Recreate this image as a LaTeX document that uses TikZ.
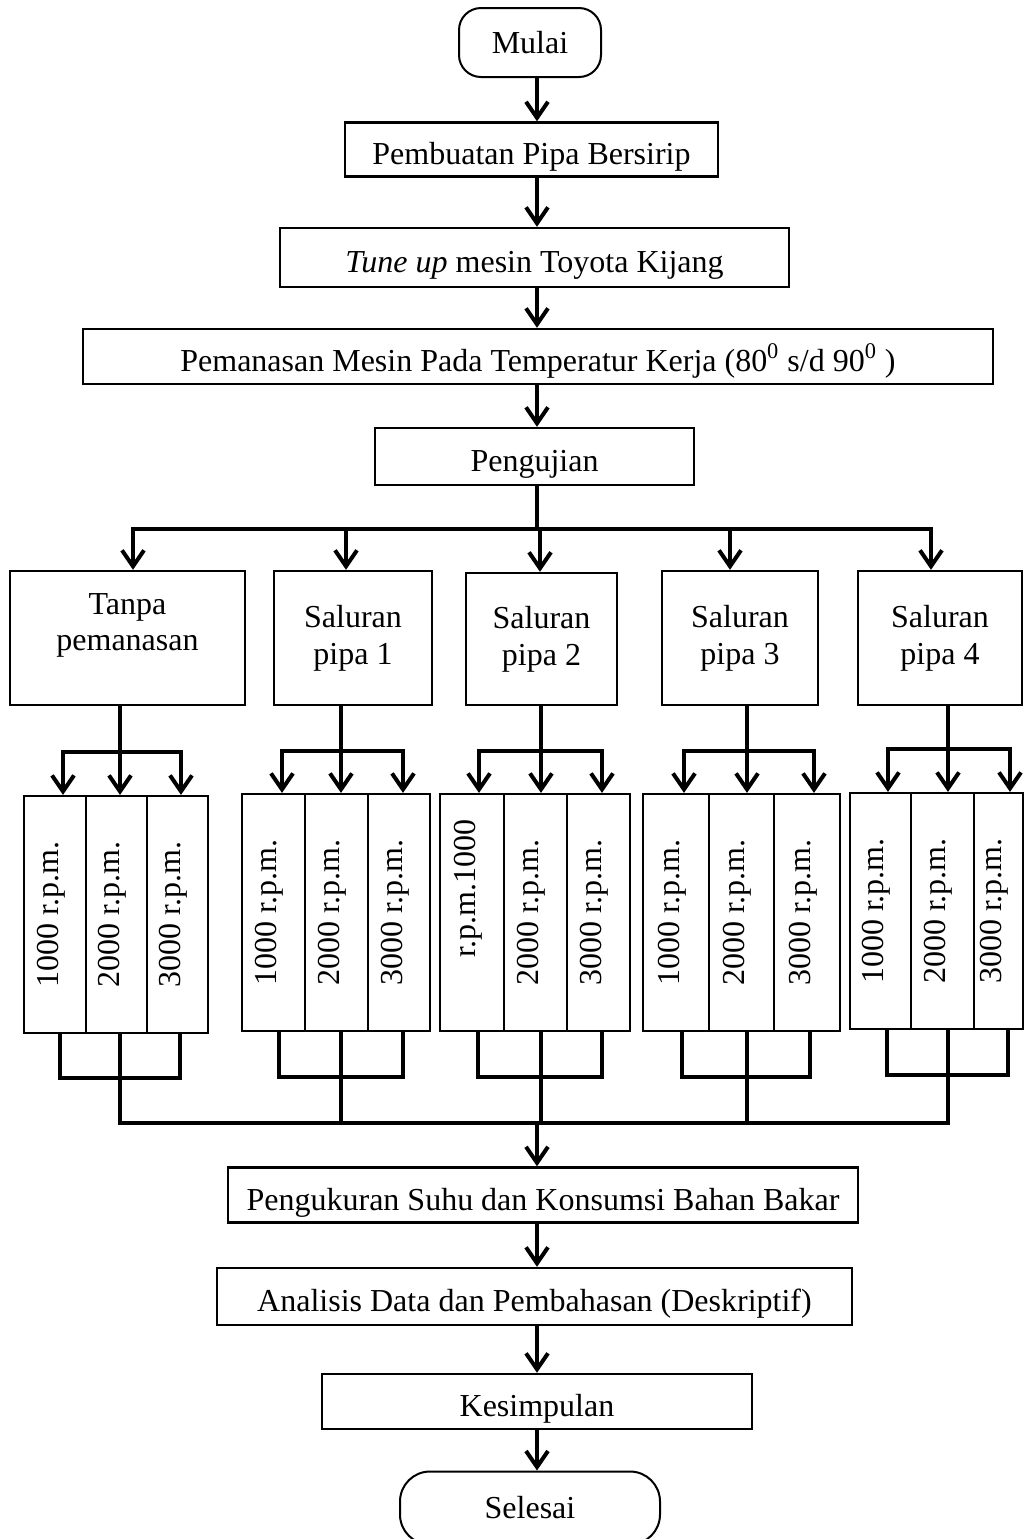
\documentclass[tikz,border=0pt]{standalone}
\usepackage{fontspec}
\setmainfont{Liberation Serif}
\usetikzlibrary{arrows.meta}
\tikzset{
  box/.style={draw, line width=1.2pt, inner sep=0pt, align=center, font=\fontsize{16}{18.4}\selectfont},
  one/.style={box, text height=15pt, text depth=0pt},
  term/.style={box, line width=1pt, rounded corners=11pt},
  col/.style={draw, line width=1.1pt, inner sep=0pt},
  rpm/.style={rotate=90, inner sep=0pt, yshift=2pt, font=\fontsize{16}{18.4}\selectfont},
  arr/.style={-{Straight Barb[length=8pt,width=11pt]}, line width=2pt},
  fork/.style={line width=2pt, line cap=rect},
}
\begin{document}
\begin{tikzpicture}[x=0.5pt, y=-0.5pt]
    \useasboundingbox (0,0) rectangle (1025,1539);
    \clip (0,0) rectangle (1025,1539);
    \coordinate (ax) at (537,0);
    \node[term, minimum width=71pt, minimum height=34.5pt] (mulai) at (530,42.5) {Mulai};
    \node[one, minimum width=186.5pt, minimum height=27pt] (buat) at (531.5,149.5) {Pembuatan Pipa Bersirip};
    \node[one, minimum width=254.5pt, minimum height=29.5pt] (tune) at (534.5,257.5) {\textit{Tune up} mesin Toyota Kijang};
    \node[one, minimum width=455pt, minimum height=27.5pt] (panas) at (538,356.5) {Pemanasan Mesin Pada Temperatur Kerja (80\textsuperscript{0} s/d 90\textsuperscript{0} )};
    \node[one, minimum width=159.5pt, minimum height=28.5pt] (uji) at (534.5,456.5) {Pengujian};
    \foreach \a/\b in {mulai/buat, buat/tune, tune/panas, panas/uji} {
        \draw[arr] (\a.south -| ax) -- (\b.north -| ax);
    }

    \node[box, minimum width=117.5pt, minimum height=67pt] (tanpa) at (127.5,638) {};
    \node[box, anchor=north, draw=none] at (127.5,592) {Tanpa\\pemanasan};
    \node[box, minimum width=79pt, minimum height=67pt] (sal1) at (353,638) {Saluran\\pipa 1};
    \node[box, minimum width=75.5pt, minimum height=66pt] (sal2) at (541.5,639) {Saluran\\pipa 2};
    \node[box, minimum width=78pt, minimum height=67pt] (sal3) at (740,638) {Saluran\\pipa 3};
    \node[box, minimum width=82pt, minimum height=67pt] (sal4) at (940,638) {Saluran\\pipa 4};

    \coordinate (dl) at (133,529);
    \coordinate (dr) at (931,529);
    \draw[fork] (uji.south -| ax) -- (ax |- dl);
    \draw[fork] (dl) -- (dr);
    \foreach \n/\x in {tanpa/133, sal1/346, sal2/540, sal3/730, sal4/931} {
        \draw[arr] (\x,529) -- (\n.north -| \x,0);
    }

    \foreach \g/\n/\xa/\xb/\xc/\xd/\ya/\yb/\yf/\aa/\ab/\ac/\ba/\bc/\yj/\ta/\sh in {
        0/tanpa/24/86/147/208/796/1033/752/63/120/181/60/180/1078/1000 r.p.m./0,
        1/sal1/242/305/368/430/794/1031/751/282/341/403/279/403/1077/1000 r.p.m./0,
        2/sal2/440/504/567/630/794/1031/751/479/541/602/478/602/1077/r.p.m.1000/12,
        3/sal3/643/709/774/840/794/1031/751/684/747/814/682/810/1077/1000 r.p.m./0,
        4/sal4/850/911/974/1023/793/1029/749/888/948/1010/887/1008/1075/1000 r.p.m./0} {
        \pgfmathsetmacro\ym{(\ya+\yb)/2}
        \pgfmathsetmacro\hh{(\yb-\ya)/2}
        \pgfmathsetmacro\ma{(\xa+\xb)/2}
        \pgfmathsetmacro\mb{(\xb+\xc)/2}
        \pgfmathsetmacro\mc{(\xc+\xd)/2}
        \pgfmathsetmacro\wa{(\xb-\xa)/2}
        \pgfmathsetmacro\wb{(\xc-\xb)/2}
        \pgfmathsetmacro\wc{(\xd-\xc)/2}
        \node[col, minimum width=\wa pt, minimum height=\hh pt] (r\g-1) at (\ma,\ym) {};
        \node[col, minimum width=\wb pt, minimum height=\hh pt] (r\g-2) at (\mb,\ym) {};
        \node[col, minimum width=\wc pt, minimum height=\hh pt] (r\g-3) at (\mc,\ym) {};
        \node[rpm, xshift=\sh pt] at (r\g-1) {\ta};
        \node[rpm] at (r\g-2) {2000 r.p.m.};
        \node[rpm] at (r\g-3) {3000 r.p.m.};
        \draw[fork] (\n.south -| \ab,0) -- (\ab,\yf);
        \draw[fork] (\aa,\yf) -- (\ac,\yf);
        \draw[arr] (\aa,\yf) -- (r\g-1.north -| \aa,0);
        \draw[arr] (\ab,\yf) -- (r\g-2.north -| \ab,0);
        \draw[arr] (\ac,\yf) -- (r\g-3.north -| \ac,0);
        \draw[fork] (r\g-1.south -| \ba,0) -- (\ba,\yj) -- (\bc,\yj) -- (r\g-3.south -| \bc,0);
        \draw[fork] (r\g-2.south -| \ab,0) -- (\ab,1123);
    }
    \draw[fork] (122,1123) -- (948,1123);
    \coordinate (jm) at (537,1123);

    \node[one, minimum width=315pt, minimum height=27.5pt] (ukur) at (543,1195) {Pengukuran Suhu dan Konsumsi Bahan Bakar};
    \node[one, minimum width=317.5pt, minimum height=28.5pt] (ana) at (534.5,1296.5) {Analisis Data dan Pembahasan (Deskriptif)};
    \node[one, minimum width=215pt, minimum height=27.5pt] (simpul) at (537,1401.5) {Kesimpulan};
    \node[term, rounded corners=15pt, minimum width=130pt, minimum height=36.5pt] (selesai) at (530,1508) {Selesai};
    \draw[arr] (jm) -- (ukur.north -| ax);
    \foreach \a/\b in {ukur/ana, ana/simpul, simpul/selesai} {
        \draw[arr] (\a.south -| ax) -- (\b.north -| ax);
    }
\end{tikzpicture}
\end{document}
